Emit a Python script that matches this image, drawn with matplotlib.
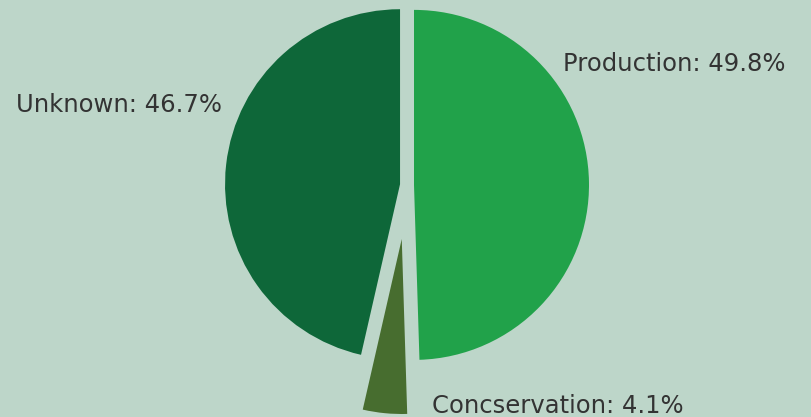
import matplotlib

matplotlib.use("Agg")
import matplotlib.pyplot as plt

labels = ["Production", "Concservation", "Unknown"]
shares = [49.8, 4.1, 46.7]
colours = ["#21a24a", "#476d2f", "#0e6739"]
explode = [0.04, 0.31, 0.04]

BG = "#bdd6c9"
R_PX = 175  # pie radius in pixels
CX, CY = 407, 185  # pie centre in pixels (from top-left)
W, H = 812, 417

fig = plt.figure(figsize=(W / 100, H / 100), dpi=100, facecolor=BG)
ax = fig.add_axes([0, 0, 1, 1])
ax.set_facecolor(BG)

ax.pie(shares, colors=colours, explode=explode, startangle=90,
       counterclock=False, radius=1.0)

ax.set_xlim(-CX / R_PX, (W - CX) / R_PX)
ax.set_ylim(-(H - CY) / R_PX, CY / R_PX)
ax.set_aspect("equal", adjustable="datalim")
ax.axis("off")

font = dict(family="DejaVu Sans", fontsize=17.5, color="#333333", va="center")
ax.text(0.89, 0.69, f"{labels[0]}: {shares[0]}%", ha="left", **font)
ax.text(-1.057, 0.455, f"{labels[2]}: {shares[2]}%", ha="right", **font)
ax.text(0.143, -1.262, f"{labels[1]}: {shares[1]}%", ha="left", **font)

fig.savefig("out.png", dpi=100, facecolor=BG)
